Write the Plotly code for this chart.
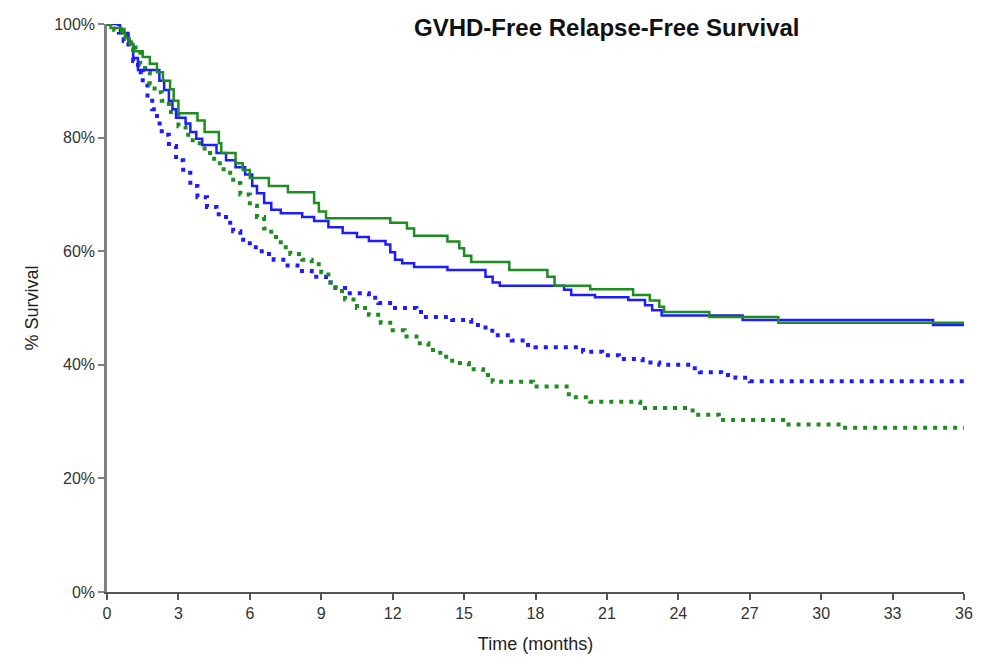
import plotly.graph_objects as go

# ---------------- data ----------------
title_text = "GVHD-Free Relapse-Free Survival"
x_title = "Time (months)"
y_title = "% Survival"

x_tick_vals = [0, 3, 6, 9, 12, 15, 18, 21, 24, 27, 30, 33, 36]
y_tick_vals = [0, 20, 40, 60, 80, 100]
y_tick_text = ["0%", "20%", "40%", "60%", "80%", "100%"]

# solid green
green_solid_t = [0, 0.15, 0.6, 0.75, 0.95, 1.1, 1.5, 1.8, 2.1, 2.35, 2.65, 2.8, 3.0,
                 3.8, 4.1, 4.7, 4.8, 5.4, 5.7, 6.0, 6.8, 7.6, 8.7, 8.9, 9.2, 11.9,
                 12.6, 12.9, 14.3, 14.8, 15.0, 15.3, 16.9, 18.5, 18.8, 20.3, 22.1,
                 22.8, 23.2, 23.4, 25.3, 28.2, 36]
green_solid_s = [100, 99.3, 98.6, 97.5, 96.5, 95.2, 94.2, 93.0, 91.5, 90.0, 88.5, 86.5, 84.3,
                 83.0, 81.0, 79.0, 77.3, 75.5, 74.3, 72.9, 71.5, 70.4, 68.5, 67.0, 65.8, 65.0,
                 64.0, 62.7, 61.7, 60.5, 59.2, 58.1, 56.7, 55.5, 53.9, 53.3, 52.3,
                 51.3, 50.2, 49.3, 48.4, 47.4, 47.4]

# solid blue
blue_solid_t = [0, 0.55, 0.9, 1.1, 1.3, 2.2, 2.4, 2.6, 2.75, 2.9, 3.3, 3.5, 3.75, 4.0,
                4.6, 5.0, 5.4, 5.8, 6.1, 6.3, 6.6, 6.9, 7.3, 8.2, 8.7, 9.3, 9.9, 10.5,
                11.0, 11.7, 11.9, 12.1, 12.4, 12.9, 14.3, 15.9, 16.2, 16.5, 19.2, 19.5,
                20.5, 21.9, 22.6, 22.9, 23.3, 26.7, 34.7, 36]
blue_solid_s = [100, 98.4, 96.5, 94.0, 91.9, 90.0, 88.4, 86.5, 85.0, 83.5, 82.5, 81.0, 79.8, 78.7,
                77.3, 76.0, 74.8, 73.5, 71.5, 70.2, 68.5, 67.3, 66.7, 66.0, 65.3, 64.2, 63.2, 62.5,
                61.8, 61.2, 59.8, 58.5, 57.9, 57.2, 56.7, 55.5, 54.5, 53.9, 53.2, 52.3,
                51.9, 51.4, 50.5, 49.6, 48.7, 47.9, 47.0, 47.0]

# dotted blue
blue_dot_t = [0, 0.5, 0.7, 0.9, 1.1, 1.3, 1.5, 1.7, 1.9, 2.1, 2.3, 2.6, 2.9, 3.2, 3.5,
              3.8, 4.2, 4.6, 5.0, 5.3, 5.6, 6.0, 6.5, 7.0, 7.5, 8.0, 8.6, 9.2, 9.6, 10.0,
              11.0, 11.4, 12.0, 13.0, 13.3, 14.5, 15.3, 15.9, 16.3, 17.0, 17.6, 18.0,
              20.0, 20.8, 21.5, 22.5, 23.2, 24.5, 24.9, 25.8, 26.4, 27.0, 36]
blue_dot_s = [100, 98.5, 97.0, 95.5, 93.5, 91.5, 89.5, 87.0, 85.0, 82.5, 80.5, 78.5, 76.0, 73.8, 71.5,
              69.5, 67.8, 66.5, 65.0, 63.5, 62.0, 60.7, 59.5, 58.5, 57.5, 56.5, 55.5, 54.5, 53.5, 52.6,
              51.8, 50.9, 50.0, 49.3, 48.4, 47.9, 47.0, 46.0, 45.2, 44.3, 43.5, 43.1,
              42.3, 41.7, 41.0, 40.4, 40.0, 39.4, 38.7, 38.2, 37.7, 37.1, 37.1]

# dotted green
green_dot_t = [0, 0.3, 0.7, 1.0, 1.2, 1.4, 1.6, 1.8, 2.0, 2.3, 2.6, 3.0, 3.3, 3.6, 4.1,
               4.5, 4.9, 5.3, 5.6, 6.0, 6.3, 6.6, 6.9, 7.3, 7.7, 8.2, 8.6, 9.0, 9.3, 9.6,
               10.0, 10.5, 11.0, 11.5, 12.0, 12.5, 13.0, 13.5, 14.0, 14.5, 15.2, 15.8,
               16.2, 17.9, 19.4, 20.3, 22.4, 24.6, 25.7, 28.5, 30.9, 36]
green_dot_s = [100, 99.0, 98.0, 96.5, 95.0, 93.0, 91.5, 89.5, 88.0, 86.5, 84.5, 82.0, 80.5, 79.0, 77.3,
               75.5, 73.8, 72.0, 70.0, 68.0, 66.0, 64.0, 62.5, 60.7, 59.5, 58.5, 57.7, 56.3, 54.5, 53.0,
               51.5, 50.0, 48.8, 47.4, 46.1, 45.0, 43.8, 42.6, 41.4, 40.3, 39.2, 38.2,
               37.0, 36.2, 34.3, 33.5, 32.4, 31.2, 30.3, 29.5, 28.9, 28.9]

BLUE = "#1c1cff"
GREEN = "#1f8c1f"
FONT = "Liberation Sans, Arial, sans-serif"

fig = go.Figure()

series = [
    (blue_dot_t, blue_dot_s, BLUE, "4px,6px", 4),
    (green_dot_t, green_dot_s, GREEN, "4px,6px", 4),
    (blue_solid_t, blue_solid_s, BLUE, "solid", 2.5),
    (green_solid_t, green_solid_s, GREEN, "solid", 2.5),
]
for t, s, col, dash, w in series:
    fig.add_trace(go.Scatter(
        x=t, y=s, mode="lines", line=dict(color=col, width=w, dash=dash, shape="hv"),
        cliponaxis=False, showlegend=False, hoverinfo="skip"))

fig.update_layout(
    width=1000, height=664,
    margin=dict(l=107, r=36, t=24, b=72),
    paper_bgcolor="white", plot_bgcolor="white",
    font=dict(family=FONT, color="#333333", size=16),
    showlegend=False,
    annotations=[dict(
        text="<b>" + title_text + "</b>", x=(607 - 107) / 857, y=(592 - 28) / 568,
        xref="paper", yref="paper", xanchor="center", yanchor="middle",
        showarrow=False, font=dict(size=24, color="#111111", family=FONT))],
)

fig.update_xaxes(
    range=[0, 36], tickvals=x_tick_vals, ticktext=[str(v) for v in x_tick_vals],
    showgrid=False, zeroline=False, showline=True, linecolor="#555555", linewidth=1.5,
    ticks="outside", ticklen=6, tickwidth=1.5, tickcolor="#555555",
    tickfont=dict(size=16, color="#333333"),
    title=dict(text=x_title, font=dict(size=18, color="#222222"), standoff=16),
)
fig.update_yaxes(
    range=[0, 100], tickvals=y_tick_vals, ticktext=y_tick_text,
    showgrid=False, zeroline=False, showline=True, linecolor="#808080", linewidth=2.5,
    ticks="outside", ticklen=6, tickwidth=1.5, tickcolor="#808080",
    tickfont=dict(size=16, color="#333333"),
    title=dict(text=y_title, font=dict(size=18, color="#222222"), standoff=11),
)

fig.write_html("out.html")
